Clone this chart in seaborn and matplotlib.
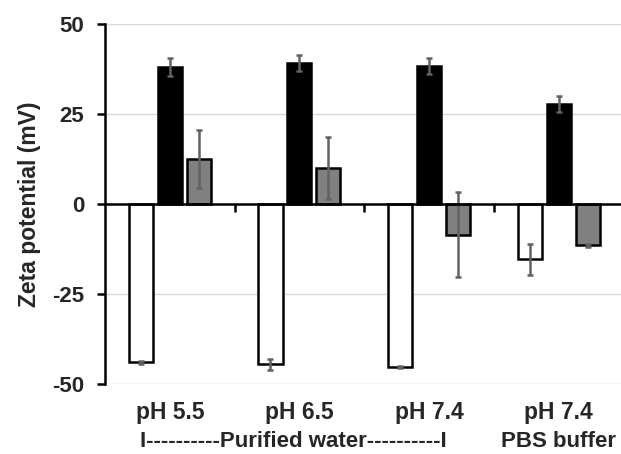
import numpy as np
import pandas as pd
import matplotlib
matplotlib.use("Agg")
import matplotlib.pyplot as plt
import seaborn as sns

# Data
conditions = ["pH 5.5", "pH 6.5", "pH 7.4", "pH 7.4 PBS"]
tick_labels = ["pH 5.5", "pH 6.5", "pH 7.4", "pH 7.4"]
samples = ["A", "B", "C"]
values_a = [-44.0, -44.5, -45.3, -15.3]
values_b = [38.0, 39.2, 38.4, 27.8]
values_c = [12.5, 10.0, -8.5, -11.5]
errors_a = [0.5, 1.6, 0.3, 4.3]
errors_b = [2.5, 2.2, 2.2, 2.1]
errors_c = [8.0, 8.6, 11.8, 0.5]

df = pd.DataFrame({
    "condition": conditions * 3,
    "sample": np.repeat(samples, len(conditions)),
    "zeta": values_a + values_b + values_c,
    "err": errors_a + errors_b + errors_c,
})

sns.set_theme(style="white")
plt.rcParams["font.family"] = ["Liberation Sans", "DejaVu Sans"]
plt.rcParams["font.weight"] = "bold"
plt.rcParams["axes.unicode_minus"] = False

fig = plt.figure(figsize=(6.21, 4.54), dpi=100)
ax = fig.add_axes([0.169, 0.154, 0.831, 0.793])

palette = {"A": "white", "B": "black", "C": "#808080"}
sns.barplot(data=df, x="condition", y="zeta", hue="sample", order=conditions,
            hue_order=samples, palette=palette, width=0.67, gap=0.17,
            errorbar=None, edgecolor="black", linewidth=1.8, legend=False,
            saturation=1, ax=ax)

# error bars at the centre of each bar
for bar_container, s in zip(ax.containers, samples):
    sub = df[df["sample"] == s].set_index("condition").loc[conditions]
    xs = [p.get_x() + p.get_width() / 2 for p in bar_container.patches]
    ax.errorbar(xs, sub["zeta"], yerr=sub["err"], fmt="none",
                ecolor="#626262", elinewidth=1.8, capsize=2.5, capthick=1.8,
                zorder=5)

ax.set_ylim(-50, 50)
ax.set_xlim(-0.5, 3.48)
ax.set_yticks([-50, -25, 0, 25, 50])
ax.yaxis.grid(True, color="#d9d9d9", linewidth=1)
ax.set_axisbelow(True)
ax.tick_params(axis="y", direction="out", length=6, width=1.8, color="black",
               labelsize=16, pad=9, left=True)
for lab in ax.get_yticklabels():
    lab.set_fontweight("bold")
ax.set_ylabel("Zeta potential (mV)", fontsize=16.5, fontweight="bold", labelpad=8)

for side in ["top", "right"]:
    ax.spines[side].set_visible(False)
ax.spines["left"].set_color("black")
ax.spines["left"].set_linewidth(1.8)
ax.spines["bottom"].set_position(("data", 0))
ax.spines["bottom"].set_color("black")
ax.spines["bottom"].set_linewidth(1.8)
ax.spines["bottom"].set_zorder(6)

# small ticks at group boundaries on the zero line
ax.set_xticks(np.arange(0.5, len(conditions) - 1, 1.0))
ax.set_xticklabels([])
ax.tick_params(axis="x", direction="out", length=6, width=1.8, color="black",
               bottom=True)
ax.set_xlabel("")

# group labels at the bottom of the axes
sec = ax.secondary_xaxis(0)
sec.set_xticks(range(len(conditions)))
sec.set_xticklabels(tick_labels, fontsize=16.5, fontweight="bold")
sec.tick_params(length=0, pad=12)
sec.spines["bottom"].set_visible(False)

ax.text(0.95, -0.174, "I----------Purified water----------I", transform=ax.get_xaxis_transform(),
        ha="center", va="baseline", fontsize=16, fontweight="bold")
ax.text(3.0, -0.174, "PBS buffer", transform=ax.get_xaxis_transform(),
        ha="center", va="baseline", fontsize=16, fontweight="bold")

fig.savefig("out.png", dpi=100)
